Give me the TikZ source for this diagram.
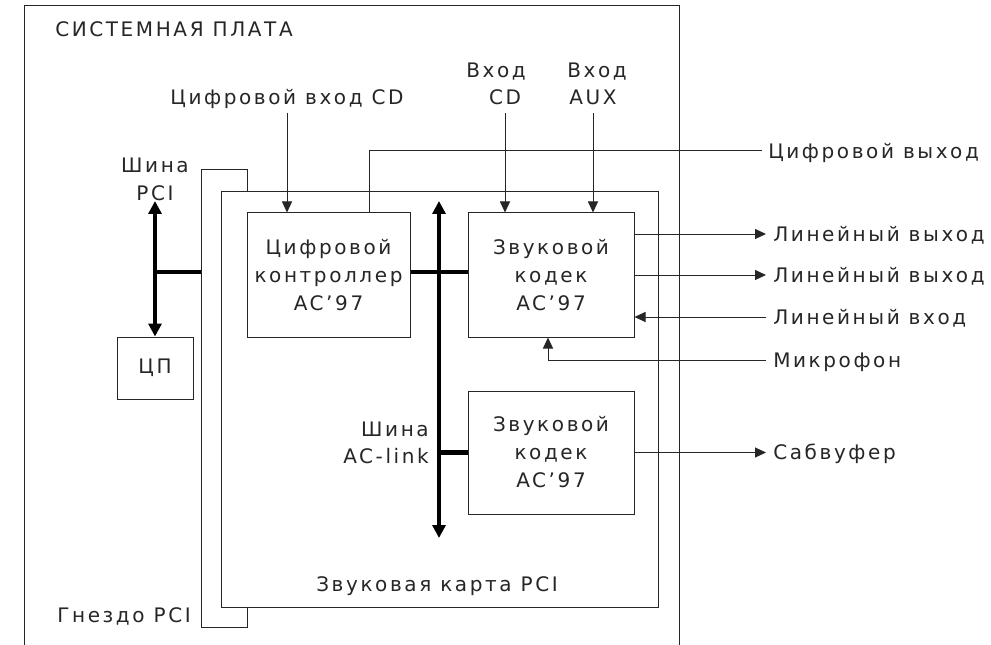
\documentclass[tikz,border=0pt]{standalone}
\usepackage{fontspec}
\setmainfont{DejaVu Sans}[LetterSpace=13]
\usetikzlibrary{arrows.meta,calc}
\begin{document}
\begin{tikzpicture}[x=0.75pt,y=-0.75pt,
  every node/.style={font=\fontsize{15}{21}\selectfont, text=black!85},
  wire/.style={line width=0.75pt, draw=black!85},
  arr/.style={wire, -{Triangle[length=8.25pt,width=7.5pt]}},
  bus/.style={line width=3.4pt, draw=black},
  busarr/.style={bus, {Triangle[length=9.75pt,width=9.75pt]}-{Triangle[length=9.75pt,width=9.75pt]}},
  box/.style={wire, fill=white, align=center, inner sep=0pt},
  sz/.style 2 args={minimum width=#1*0.75pt, minimum height=#2*0.75pt},
  lbl/.style={inner sep=0pt, text height=10.9pt, text depth=0pt},
  rlbl/.style={lbl, anchor=west, inner xsep=5.25pt}
]
\path[use as bounding box, fill=white] (0,0) rectangle (991,645);
% system board frame
\draw[wire] (24.5,645) -- (24.5,5.5) -- (679.5,5.5) -- (679.5,645);
\node[lbl, anchor=west] (title) at (55,29) {СИСТЕМНАЯ ПЛАТА};
% slot and card
\node[box, sz={46}{457}] (slot) at (224,398.5) {};
\node[box, sz={437}{415}] (card) at (439.5,399.5) {};
% boxes
\node[box, sz={163}{124}] (ctrl) at (328.5,275) {Цифровой\\контроллер\\AC’97};
\node[box, sz={166}{124}] (codecA) at (551,275) {Звуковой\\кодек\\AC’97};
\node[box, sz={166}{123}] (codecB) at (551,452.5) {Звуковой\\кодек\\AC’97};
\node[box, sz={76}{62}] (cpu) at (155,368) {ЦП};
% labels
\node[lbl] (dcd) at (287,97) {Цифровой вход CD};
\node[lbl] (cdA) at (496,70) {Вход};
\node[lbl] (cd) at (505,97) {CD};
\node[lbl] (auxA) at (597,70) {Вход};
\node[lbl] (aux) at (593,97) {AUX};
\node[lbl] (pciA) at (155,165) {Шина};
\node[lbl] (pci) at (155,193) {PCI};
\node[lbl, anchor=east] (aclA) at (429,429) {Шина};
\node[lbl, anchor=east] (acl) at (429,456) {AC-link};
\node[lbl] (cardlbl) at (437,584) {Звуковая карта PCI};
\node[lbl, anchor=east] (slotlbl) at (191,615) {Гнездо PCI};
\node[lbl, anchor=west, inner xsep=4.5pt] (dout) at (762,151) {Цифровой выход};
\node[rlbl] (lo1) at (766,234) {Линейный выход};
\node[rlbl] (lo2) at (766,275) {Линейный выход};
\node[rlbl] (li) at (766,317) {Линейный вход};
\node[rlbl] (mic) at (766,360) {Микрофон};
\node[rlbl] (sub) at (766,452.5) {Сабвуфер};
% inputs from top
\draw[arr, shorten <=6pt] (dcd.south) -- (dcd.south |- ctrl.north);
\draw[arr, shorten <=6pt] (cd.south) -- (cd.south |- codecA.north);
\draw[arr, shorten <=6pt] (aux.south) -- (aux.south |- codecA.north);
% digital out
\draw[wire] ($(ctrl.north west)!0.75!(ctrl.north east)$) |- (dout.west);
% outputs
\draw[arr] (codecA.east |- lo1.west) -- (lo1.west);
\draw[arr] (codecA.east |- lo2.west) -- (lo2.west);
\draw[arr] (li.west) -- (codecA.east |- li.west);
\draw[arr] (mic.west) -| ($(codecA.south)+(-3,0)$);
\draw[arr] (codecB.east |- sub.west) -- (sub.west);
% PCI bus
\coordinate (pcitop) at (155,201);
\coordinate (pcij) at (155,272);
\draw[busarr] (pcitop) -- (cpu.north);
\draw[bus] (pcij) -- (pcij -| slot.west);
% AC-link bus
\coordinate (actop) at (439,201);
\coordinate (acbot) at (439,538);
\coordinate (acj) at (439,272);
\draw[busarr] (actop) -- (acbot);
\draw[bus] (acj -| ctrl.east) -- (acj -| codecA.west);
\draw[bus] (codecB.west -| acj) -- (codecB.west);
\end{tikzpicture}
\end{document}
